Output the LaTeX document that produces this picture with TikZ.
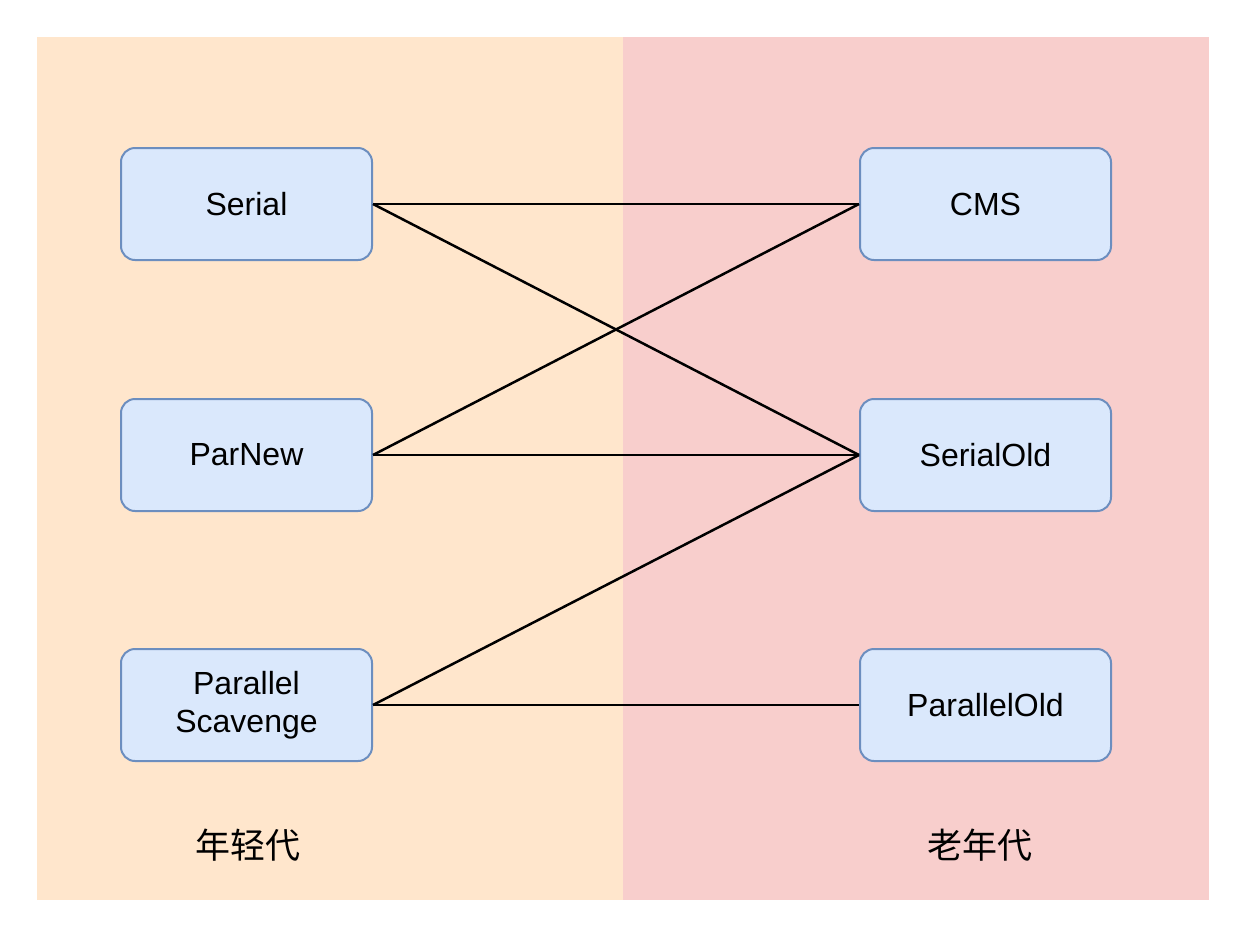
\documentclass[tikz,border=0pt]{standalone}
\usepackage{fontspec}
\setmainfont{Liberation Sans}
\newfontfamily\cjk{Noto Sans CJK SC}
\begin{document}
\begin{tikzpicture}[x=1pt,y=-1pt,
  box/.style={draw=boxline,fill=boxfill,rounded corners=14pt,line width=2pt,minimum width=251pt,minimum height=112pt,align=center,font=\fontsize{32}{38}\selectfont},
  lbl/.style={font=\cjk\fontsize{35}{40}\selectfont},
  link/.style={line width=2.5pt,black}]
\definecolor{boxfill}{HTML}{DAE8FC}
\definecolor{boxline}{HTML}{6C8EBF}
\definecolor{young}{HTML}{FFE6CC}
\definecolor{old}{HTML}{F8CECC}
\useasboundingbox (0,0) rectangle (1254,938);
\fill[white] (0,0) rectangle (1254,938);
\fill[young] (37,37) rectangle (623,900);
\fill[old] (623,37) rectangle (1209,900);
\node[box] (serial) at (246.5,204) {Serial};
\node[box] (parnew) at (246.5,455) {ParNew};
\node[box] (ps) at (246.5,705) {Parallel\\Scavenge};
\node[box] (cms) at (985.5,204) {CMS};
\node[box] (so) at (985.5,455) {SerialOld};
\node[box] (po) at (985.5,705) {ParallelOld};
\node[lbl] (yl) at (248,845) {年轻代};
\node[lbl] (ol) at (980,845) {老年代};
\draw[link] (serial.east) -- (cms.west);
\draw[link] (serial.east) -- (so.west);
\draw[link] (parnew.east) -- (cms.west);
\draw[link] (parnew.east) -- (so.west);
\draw[link] (ps.east) -- (so.west);
\draw[link] (ps.east) -- (po.west);
\end{tikzpicture}
\end{document}
